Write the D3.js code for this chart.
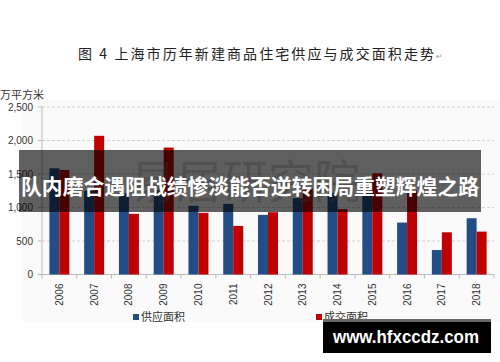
<!DOCTYPE html>
<html>
<head>
<meta charset="utf-8">
<script src="https://cdn.jsdelivr.net/npm/d3@7"></script>
<style>
  body { margin: 0; background: #fff; }
  svg { display: block; font-family: "Noto Sans CJK SC", "DejaVu Sans", sans-serif; }
</style>
</head>
<body>
<svg id="chart" width="500" height="362"></svg>
<script>
// data (万平方米)
const years = ["2006","2007","2008","2009","2010","2011","2012","2013","2014","2015","2016","2017","2018"];
const supply = [1585, 1250, 1215, 1255, 1025, 1055, 890, 1140, 1220, 1215, 775, 365, 840];
const deal   = [1560, 2070, 905, 1895, 920, 725, 930, 1270, 975, 1510, 1250, 630, 640];
const seriesNames = ["供应面积", "成交面积"];
const yTicks = [0, 500, 1000, 1500, 2000, 2500];

const colors = { "供应面积": "#234d85", "成交面积": "#c00000" };
const plotLeft = 42, plotRight = 494, plotTop = 107, plotBottom = 274.5;

const svg = d3.select("#chart");

// faint background behind the original chart area
svg.append("rect").attr("x", 22).attr("y", 100).attr("width", 478).attr("height", 222)
    .style("fill", "#fafafa");

// title
svg.append("text")
    .attr("x", 78).attr("y", 59)
    .attr("textLength", 356)
    .attr("lengthAdjust", "spacing")
    .style("font-family", "'Noto Sans CJK SC', serif")
    .style("font-size", "14px")
    .style("fill", "#222")
    .text("图 4  上海市历年新建商品住宅供应与成交面积走势");
svg.append("text").attr("x", 436).attr("y", 59)
    .style("font-size", "8px").style("fill", "#999").text("↵");

const x = d3.scaleBand().domain(years).range([plotLeft, plotRight]).padding(0);
const x1 = d3.scaleBand().domain(seriesNames).range([0, x.bandwidth()]).paddingOuter(0.74);
const y = d3.scaleLinear().domain([0, 2500]).range([plotBottom, plotTop]);

const chart = svg.append("g");

// gridlines
chart.selectAll("line.grid")
    .data(yTicks.filter(d => d > 0))
    .enter().append("line").attr("class", "grid")
    .attr("x1", plotLeft).attr("x2", plotRight)
    .attr("y1", d => y(d)).attr("y2", d => y(d))
    .style("stroke", "#d0d0d0")
    .style("stroke-dasharray", "3 2");

// y labels
chart.selectAll("text.ytick")
    .data(yTicks)
    .enter().append("text").attr("class", "ytick")
    .attr("x", 33).attr("y", d => y(d) + 3.5)
    .attr("text-anchor", "end")
    .style("font-family", "'Liberation Sans', Arial, sans-serif")
    .style("font-size", "10px")
    .style("fill", "#333")
    .text(d => d3.format(",")(d));

svg.append("text").attr("x", 0).attr("y", 99)
    .style("font-size", "11px").style("fill", "#333").text("万平方米");

// axes lines
chart.append("line").attr("x1", plotLeft).attr("x2", plotLeft).attr("y1", plotTop).attr("y2", plotBottom)
    .style("stroke", "#bbb");
chart.append("line").attr("x1", plotLeft - 4).attr("x2", plotRight).attr("y1", plotBottom).attr("y2", plotBottom)
    .style("stroke", "#bbb");
chart.selectAll("line.ytickmark")
    .data(yTicks)
    .enter().append("line").attr("class", "ytickmark")
    .attr("x1", plotLeft - 4).attr("x2", plotLeft).attr("y1", d => y(d)).attr("y2", d => y(d))
    .style("stroke", "#bbb");
chart.selectAll("line.xtick")
    .data(years.map(d => x(d)).concat([plotRight]))
    .enter().append("line").attr("class", "xtick")
    .attr("x1", d => d).attr("x2", d => d).attr("y1", plotBottom).attr("y2", plotBottom + 4)
    .style("stroke", "#bbb");

// bars
const rows = years.map((yr, i) => ({ year: yr, values: [
    { key: "供应面积", value: supply[i] },
    { key: "成交面积", value: deal[i] }
] }));

chart.selectAll("g.year")
    .data(rows).enter()
    .append("g").attr("class", "year")
    .attr("transform", d => `translate(${x(d.year)},0)`)
    .selectAll("rect")
    .data(d => d.values).enter()
    .append("rect")
    .attr("x", d => x1(d.key))
    .attr("width", x1.bandwidth())
    .attr("y", d => y(d.value))
    .attr("height", d => plotBottom - y(d.value))
    .style("fill", d => colors[d.key]);

// x labels, rotated
chart.selectAll("text.xlabel")
    .data(years).enter()
    .append("text").attr("class", "xlabel")
    .attr("transform", d => `translate(${x(d) + x.bandwidth() / 2 + 3.5},${plotBottom + 9}) rotate(-90)`)
    .attr("text-anchor", "end")
    .style("font-family", "'Liberation Sans', Arial, sans-serif")
    .style("font-size", "10px")
    .style("fill", "#333")
    .text(d => d);

// legend
const legend = svg.selectAll("g.legend")
    .data(seriesNames).enter()
    .append("g").attr("class", "legend")
    .attr("transform", (d, i) => `translate(${[133 + i * 183, 315]})`);
legend.append("rect").attr("width", 6).attr("height", 6).attr("y", -1)
    .style("fill", d => colors[d]);
legend.append("text").attr("x", 8).attr("y", 6)
    .style("font-size", "11px").style("fill", "#333")
    .text(d => d);

// faint source watermark
svg.append("text")
    .attr("x", 245).attr("y", 198)
    .attr("text-anchor", "middle")
    .style("font-family", "'Noto Sans CJK SC', serif")
    .style("font-size", "46px")
    .style("fill", "#888")
    .style("opacity", 0.35)
    .text("易居研究院");

// dark headline band
svg.append("rect").attr("x", 19).attr("y", 150).attr("width", 462).attr("height", 62)
    .style("fill", "#000").style("opacity", 0.62);
svg.append("text")
    .attr("x", 21).attr("y", 194)
    .attr("textLength", 458)
    .attr("lengthAdjust", "spacingAndGlyphs")
    .style("font-size", "21px")
    .style("font-weight", "bold")
    .style("fill", "#fff")
    .text("队内磨合遇阻战绩惨淡能否逆转困局重塑辉煌之路");

// site box
svg.append("rect").attr("x", 323).attr("y", 319).attr("width", 168).attr("height", 34)
    .style("fill", "#000");
svg.append("rect").attr("x", 323).attr("y", 319).attr("width", 168).attr("height", 3)
    .style("fill", "#666");
svg.append("text")
    .attr("x", 333).attr("y", 343)
    .attr("textLength", 146)
    .attr("lengthAdjust", "spacingAndGlyphs")
    .style("font-family", "'Liberation Sans', Arial, sans-serif")
    .style("font-size", "19px")
    .style("font-weight", "bold")
    .style("fill", "#fff")
    .text("www.hfxccdz.com");
</script>
</body>
</html>
